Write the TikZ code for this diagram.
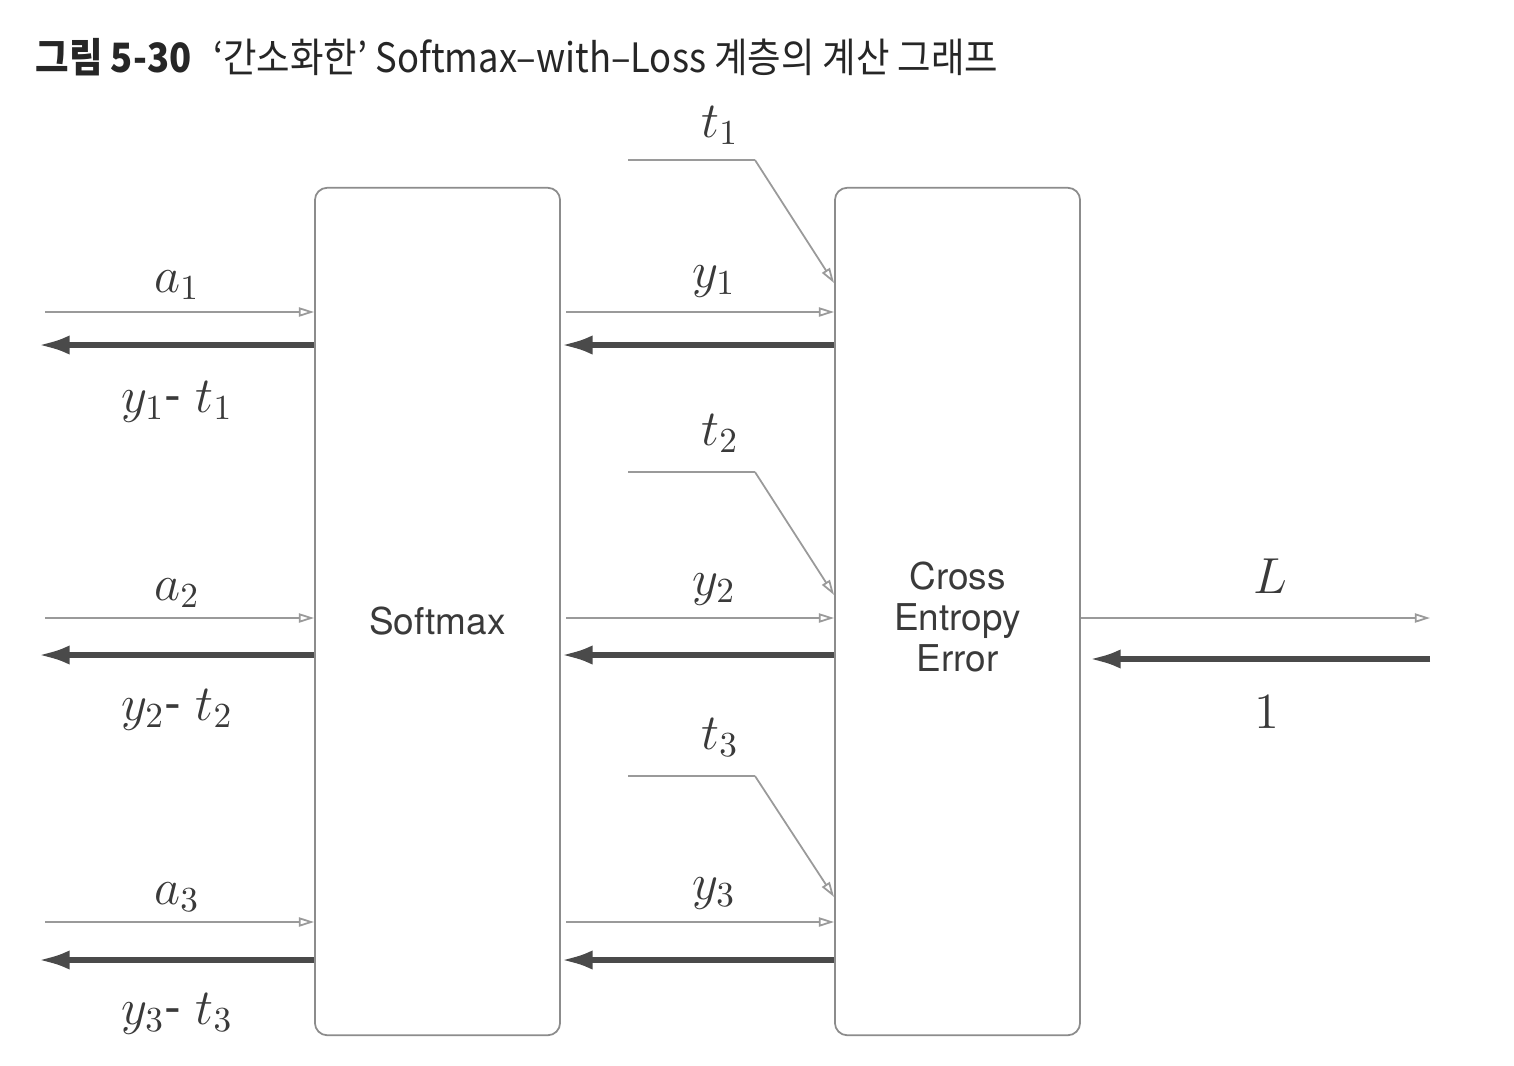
\documentclass[tikz,border=0pt]{standalone}
\usepackage{fontspec}
\setmainfont{TeX Gyre Heros}
\newfontfamily\krfont{Noto Sans CJK KR}
\definecolor{boxgray}{HTML}{8C8C8C}
\definecolor{linegray}{HTML}{9A9A9A}
\definecolor{thickgray}{HTML}{4A4A4A}
\definecolor{labelgray}{HTML}{3A3A3A}
\usetikzlibrary{arrows.meta}

\begin{document}
\begin{tikzpicture}[
  x=0.01cm, y=-0.01cm,
  every node/.style={inner sep=0pt},
  blk/.style={rectangle, rounded corners=3.5pt, draw=boxgray, line width=0.5pt,
              minimum width=2.45cm, minimum height=8.47cm, align=center,
              font=\fontsize{10.5}{11.6}\selectfont, text=labelgray},
  fwd/.style={draw=linegray, line width=0.5pt,
              -{Triangle[open, length=4.3pt, width=2.6pt]}},
  bwd/.style={draw=thickgray, line width=1.6pt,
              -{Latex[length=9pt, width=5.5pt]}},
  feed/.style={draw=linegray, line width=0.5pt},
  lbl/.style={font=\Large, text=labelgray, anchor=base}
]
  \useasboundingbox[fill=white] (0,0) rectangle (1514,1066);

  % title
  \node[anchor=base west, xscale=0.9, transform shape,
        font=\krfont\fontsize{11.5}{14}\selectfont, text=black!85] (title) at (35,72)
    {\textbf{그림 5-30}\hspace{0.6em}‘간소화한’ Softmax–with–Loss 계층의 계산 그래프};

  % layers
  \node[blk] (sm) at (437.5,611.5) {\raisebox{-0.1cm}[\height][\depth]{Softmax}};
  \node[blk] (ce) at (957.5,611.5) {\rule{0pt}{11pt}Cross\\Entropy\\Error};

  % three inputs
  \foreach \i/\yf/\yb/\yt/\yh/\dy in {1/312/345/160/283/0, 2/618/655/472/595/308, 3/922/960/776/897/612} {
    \coordinate (in\i)  at (45,\yf);
    \coordinate (out\i) at (38,\yb);
    \coordinate (tt\i)  at (628,\yt);
    \coordinate (tk\i)  at (755,\yt);

    \draw[fwd] (in\i) -- (sm.west |- in\i);
    \draw[bwd] (sm.west |- out\i) -- (out\i);
    \draw[fwd] ([xshift=1.5pt]sm.east |- in\i) -- (ce.west |- in\i);
    \draw[bwd] (ce.west |- out\i) -- (sm.east |- out\i);
    \draw[feed] (tt\i) -- (tk\i);
    \draw[fwd] (tk\i) -- (ce.west |- 0,\yh);

    \node[lbl] (a\i)  at (177,292+\dy) {$a_\i$};
    \node[lbl] (d\i)  at (177,412+\dy) {$y_\i$- $t_\i$};
    \node[lbl] (y\i)  at (714,287+\dy) {$y_\i$};
    \node[lbl] (t\i)  at (720,137+\dy) {$t_\i$};
  }

  % loss
  \coordinate (lend) at (1430,618);
  \coordinate (lret) at (1430,659);
  \draw[fwd] (ce.east |- lend) -- (lend);
  \draw[bwd] (lret) -- ([xshift=2.3pt]ce.east |- lret);
  \node[lbl] (loss) at (1270,593) {$L$};
  \node[lbl] (one)  at (1267,728) {$1$};
\end{tikzpicture}
\end{document}
